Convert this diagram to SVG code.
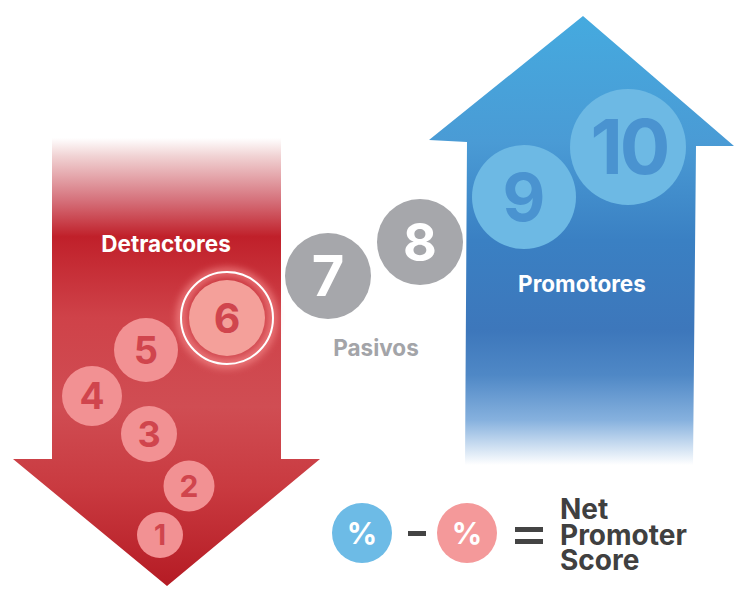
<svg xmlns="http://www.w3.org/2000/svg" width="750" height="600" viewBox="0 0 750 600">
<defs>
<linearGradient id="gRed" gradientUnits="userSpaceOnUse" x1="0" y1="138" x2="0" y2="586">
<stop offset="0" stop-color="#ffffff"/>
<stop offset="0.04" stop-color="#f1d3d4"/>
<stop offset="0.14" stop-color="#d5707a"/>
<stop offset="0.22" stop-color="#c0202a"/>
<stop offset="0.4" stop-color="#cf4249"/>
<stop offset="0.6" stop-color="#d04d53"/>
<stop offset="0.78" stop-color="#c93a40"/>
<stop offset="1" stop-color="#b51b24"/>
</linearGradient>
<linearGradient id="gBlue" gradientUnits="userSpaceOnUse" x1="0" y1="16" x2="0" y2="465">
<stop offset="0" stop-color="#45aadf"/>
<stop offset="0.28" stop-color="#4a9bd5"/>
<stop offset="0.5" stop-color="#3a80c3"/>
<stop offset="0.7" stop-color="#3d77bb"/>
<stop offset="0.8" stop-color="#4f88c6"/>
<stop offset="0.9" stop-color="#86b1de"/>
<stop offset="1" stop-color="#ffffff"/>
</linearGradient>
<filter id="glow" x="-50%" y="-50%" width="200%" height="200%">
<feGaussianBlur stdDeviation="4"/>
</filter>
<style>
.t{font-family:Inter,"Liberation Sans",sans-serif;font-weight:700;text-anchor:middle}
.f{font-family:Inter,"Liberation Sans",sans-serif;font-weight:700;font-size:28px;fill:#404040}
.red{fill:#f29193}
.redt{fill:#d0454d}
.gray{fill:#a6a7ab}
.lb{fill:#6db9e4}
.lbt{fill:#4a93d0}
</style>
</defs>
<g id="detractores-arrow">
<path d="M52,138 L281,138 L281,459 L320,459 L167,586 L13,459 L52,459 Z" fill="url(#gRed)"/>
<text class="t" x="166" y="252" font-size="22.5" fill="#ffffff">Detractores</text>
</g>
<g id="promotores-arrow">
<path d="M583,16 L734,146 L696,146 L693,465 L465,465 L467,142 L429,140 Z" fill="url(#gBlue)"/>
<text class="t" x="582" y="292" font-size="22.5" fill="#ffffff">Promotores</text>
</g>
<g id="n1"><circle class="red" cx="160" cy="535" r="23"/><text class="t redt" x="160" y="545" font-size="28">1</text></g>
<g id="n2"><circle class="red" cx="189" cy="486" r="25.5"/><text class="t redt" x="189" y="497" font-size="30">2</text></g>
<g id="n3"><circle class="red" cx="149" cy="434" r="28"/><text class="t redt" x="149" y="447" font-size="36">3</text></g>
<g id="n4"><circle class="red" cx="92" cy="396" r="30"/><text class="t redt" x="92" y="409" font-size="37">4</text></g>
<g id="n5"><circle class="red" cx="146" cy="350" r="32"/><text class="t redt" x="146" y="364" font-size="38">5</text></g>
<g id="n6">
<circle cx="227" cy="318" r="46" fill="none" stroke="#ff9a9a" stroke-width="6" filter="url(#glow)" opacity="0.9"/>
<circle cx="227" cy="318" r="46" fill="none" stroke="#ffffff" stroke-width="2"/>
<circle cx="227" cy="318" r="38" fill="#f4a09a"/>
<text class="t redt" x="227" y="333" font-size="41">6</text>
</g>
<g id="n7"><circle class="gray" cx="328" cy="276" r="43"/><text class="t" x="328" y="296" font-size="56" fill="#ffffff">7</text></g>
<g id="n8"><circle class="gray" cx="420" cy="242" r="43"/><text class="t" x="420" y="261" font-size="52" fill="#ffffff">8</text></g>
<g id="pasivos"><text class="t" x="376" y="356" font-size="22.5" fill="#a3a4a8">Pasivos</text></g>
<g id="n9"><circle class="lb" cx="524" cy="197" r="52"/><text class="t lbt" x="524" y="221" font-size="66">9</text></g>
<g id="n10"><circle class="lb" cx="628" cy="147" r="58"/><text class="t lbt" x="629" y="174" font-size="75" letter-spacing="-3">10</text></g>
<g id="formula">
<circle cx="362" cy="533" r="30" fill="#6dbbe6"/>
<text class="t" x="362" y="544" font-size="30" fill="#ffffff">%</text>
<rect x="408" y="531" width="18" height="5" fill="#444444"/>
<circle cx="467" cy="533" r="30" fill="#f4999a"/>
<text class="t" x="467" y="544" font-size="30" fill="#ffffff">%</text>
<rect x="515" y="527" width="28" height="5" fill="#444444"/>
<rect x="515" y="539" width="28" height="5" fill="#444444"/>
<text class="f" x="560" y="519">Net</text>
<text class="f" x="560" y="545">Promoter</text>
<text class="f" x="560" y="570">Score</text>
</g>
</svg>
